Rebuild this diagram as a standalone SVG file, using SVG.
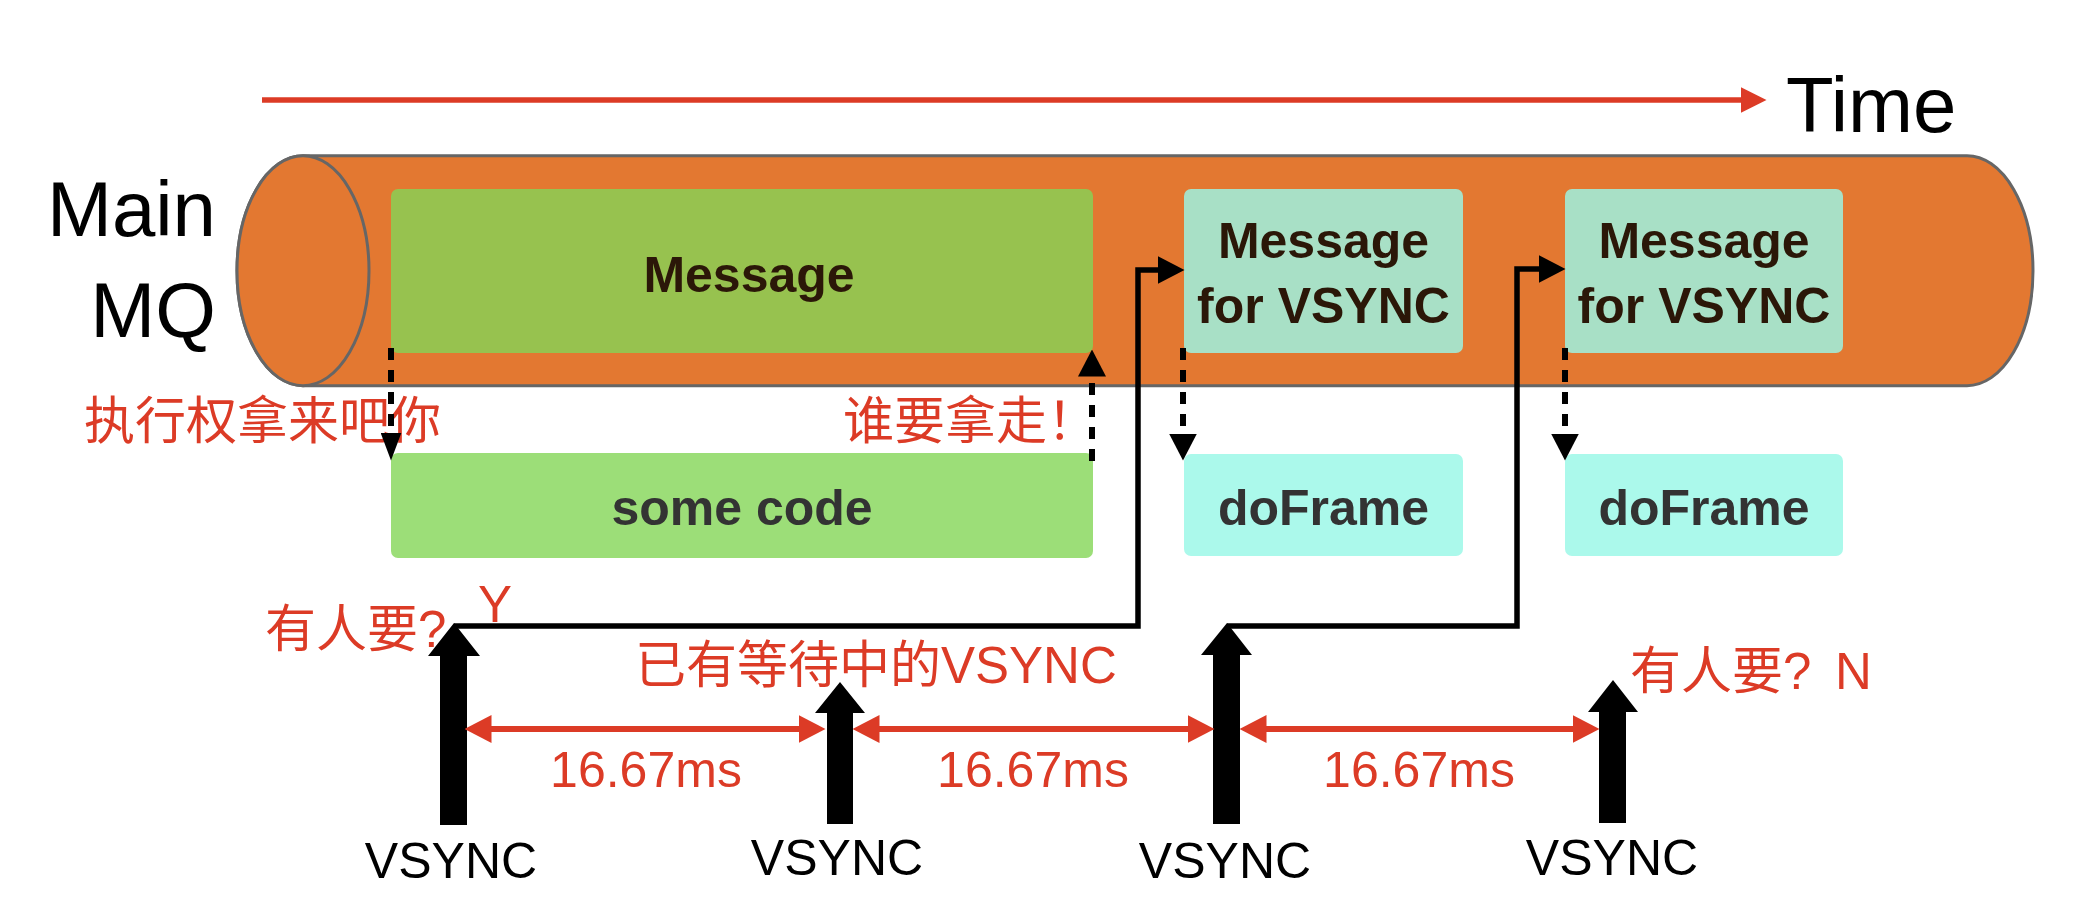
<svg xmlns="http://www.w3.org/2000/svg" width="2076" height="916" viewBox="0 0 2076 916">
<style>
.lat{font-family:"Liberation Sans",Arial,"Noto Sans CJK SC",sans-serif}
.big{font-size:78px;fill:#000}
.box{font-family:"Liberation Sans",Arial,sans-serif;font-size:50px;font-weight:bold;text-anchor:middle}
.dk{fill:#2B1708}
.gr{fill:#333333}
.red{font-family:"Liberation Sans",Arial,"Noto Sans CJK SC",sans-serif;font-size:51px;fill:#DC3B26}
.vs{font-family:"Liberation Sans",Arial,sans-serif;font-size:50px;fill:#000;text-anchor:middle}
.ms{font-family:"Liberation Sans",Arial,sans-serif;font-size:50px;fill:#DC3B26;text-anchor:middle}
.solid{fill:none;stroke:#000;stroke-width:5.5}
.dash{fill:none;stroke:#000;stroke-width:6;stroke-dasharray:12 10}
.redl{fill:none;stroke:#DC3B26;stroke-width:6}
.vsync{fill:#000}
</style>
<defs>
<marker id="ahb" markerUnits="userSpaceOnUse" viewBox="0 0 27 28" markerWidth="27" markerHeight="28" refX="0.5" refY="14" orient="auto"><path d="M0,0 L27,14 L0,28 z" fill="#000"/></marker>
<marker id="ahn" markerUnits="userSpaceOnUse" viewBox="0 0 28 21" markerWidth="28" markerHeight="21" refX="0.5" refY="10.5" orient="auto"><path d="M0,0 L28,10.5 L0,21 z" fill="#000"/></marker>
<marker id="ahr" markerUnits="userSpaceOnUse" viewBox="0 0 27 28" markerWidth="27" markerHeight="28" refX="0.5" refY="14" orient="auto-start-reverse"><path d="M0,0 L27,14 L0,28 z" fill="#DC3B26"/></marker>
<marker id="aht" markerUnits="userSpaceOnUse" viewBox="0 0 26 26" markerWidth="26" markerHeight="26" refX="0.5" refY="13" orient="auto"><path d="M0,0 L26,13 L0,26 z" fill="#DC3B26"/></marker>
</defs>
<rect width="2076" height="916" fill="#fff"/>

<g id="time-axis">
<path d="M262,100 H1741" class="redl" style="stroke-width:5.5" marker-end="url(#aht)"/>
<text x="1786" y="132" class="lat big">Time</text>
</g>

<g id="main-mq-label">
<text x="216" y="236" class="lat big" text-anchor="end">Main</text>
<text x="216" y="337" class="lat big" text-anchor="end">MQ</text>
</g>

<g id="cylinder">
<path d="M303,155.7 H1967 A66,115 0 0 1 1967,385.7 H303 A66,115 0 0 1 303,155.7 Z" fill="#E37831" stroke="#666" stroke-width="3"/>
<ellipse cx="303" cy="270.7" rx="66" ry="115" fill="#E37831" stroke="#666" stroke-width="3"/>
</g>

<g id="node-message">
<rect x="391" y="189" width="702" height="164" rx="7" fill="#97C24F"/>
<text x="749" y="292" class="box dk">Message</text>
</g>
<g id="node-msg-vsync-1">
<rect x="1184" y="189" width="279" height="164" rx="7" fill="#A8E0C6"/>
<text x="1323.5" y="258" class="box dk">Message</text>
<text x="1323.5" y="323" class="box dk">for VSYNC</text>
</g>
<g id="node-msg-vsync-2">
<rect x="1565" y="189" width="278" height="164" rx="7" fill="#A8E0C6"/>
<text x="1704" y="258" class="box dk">Message</text>
<text x="1704" y="323" class="box dk">for VSYNC</text>
</g>
<g id="node-some-code">
<rect x="391" y="453" width="702" height="105" rx="7" fill="#9CDE78"/>
<text x="742" y="525" class="box gr">some code</text>
</g>
<g id="node-doframe-1">
<rect x="1184" y="454" width="279" height="102" rx="7" fill="#ABF9EB"/>
<text x="1323.5" y="525" class="box gr">doFrame</text>
</g>
<g id="node-doframe-2">
<rect x="1565" y="454" width="278" height="102" rx="7" fill="#ABF9EB"/>
<text x="1704" y="525" class="box gr">doFrame</text>
</g>

<g id="labels">
<text x="84" y="439" class="red">执行权拿来吧你</text>
<text x="843" y="439" class="red">谁要拿走！</text>
<text x="265" y="647" class="red">有人要?</text>
<text x="478" y="622" class="red">Y</text>
<text x="635" y="683" class="red">已有等待中的VSYNC</text>
<text x="1630" y="689" class="red">有人要?<tspan x="1835">N</tspan></text>
<text x="646" y="787" class="ms">16.67ms</text>
<text x="1033" y="787" class="ms">16.67ms</text>
<text x="1419" y="787" class="ms">16.67ms</text>
<text x="451" y="878" class="vs">VSYNC</text>
<text x="837" y="875" class="vs">VSYNC</text>
<text x="1225" y="878" class="vs">VSYNC</text>
<text x="1612" y="875" class="vs">VSYNC</text>
</g>

<g id="vsync-signals">
<polygon id="vsync-1" class="vsync" points="454,623 480,656 467,656 467,825 440,825 440,656 428,656"/>
<polygon id="vsync-2" class="vsync" points="840,682 865,713 853,713 853,824 827,824 827,713 815,713"/>
<polygon id="vsync-3" class="vsync" points="1227,623 1252,655 1240,655 1240,824 1213,824 1213,655 1201,655"/>
<polygon id="vsync-4" class="vsync" points="1613,680 1638,712 1626,712 1626,823 1599,823 1599,712 1588,712"/>
</g>

<g id="connectors">
<path d="M454,626 H1138 V270 H1158" class="solid" marker-end="url(#ahb)"/>
<path d="M1227,626 H1517 V269 H1539" class="solid" marker-end="url(#ahb)"/>
<path d="M391,348 V433" class="dash" marker-end="url(#ahn)"/>
<path d="M1092,461 V376" class="dash" marker-end="url(#ahb)"/>
<path d="M1183,348 V434" class="dash" marker-end="url(#ahb)"/>
<path d="M1565,348 V434" class="dash" marker-end="url(#ahb)"/>
<path d="M491,729 H799" class="redl" marker-start="url(#ahr)" marker-end="url(#ahr)"/>
<path d="M879,729 H1188" class="redl" marker-start="url(#ahr)" marker-end="url(#ahr)"/>
<path d="M1266,729 H1573" class="redl" marker-start="url(#ahr)" marker-end="url(#ahr)"/>
</g>
</svg>
